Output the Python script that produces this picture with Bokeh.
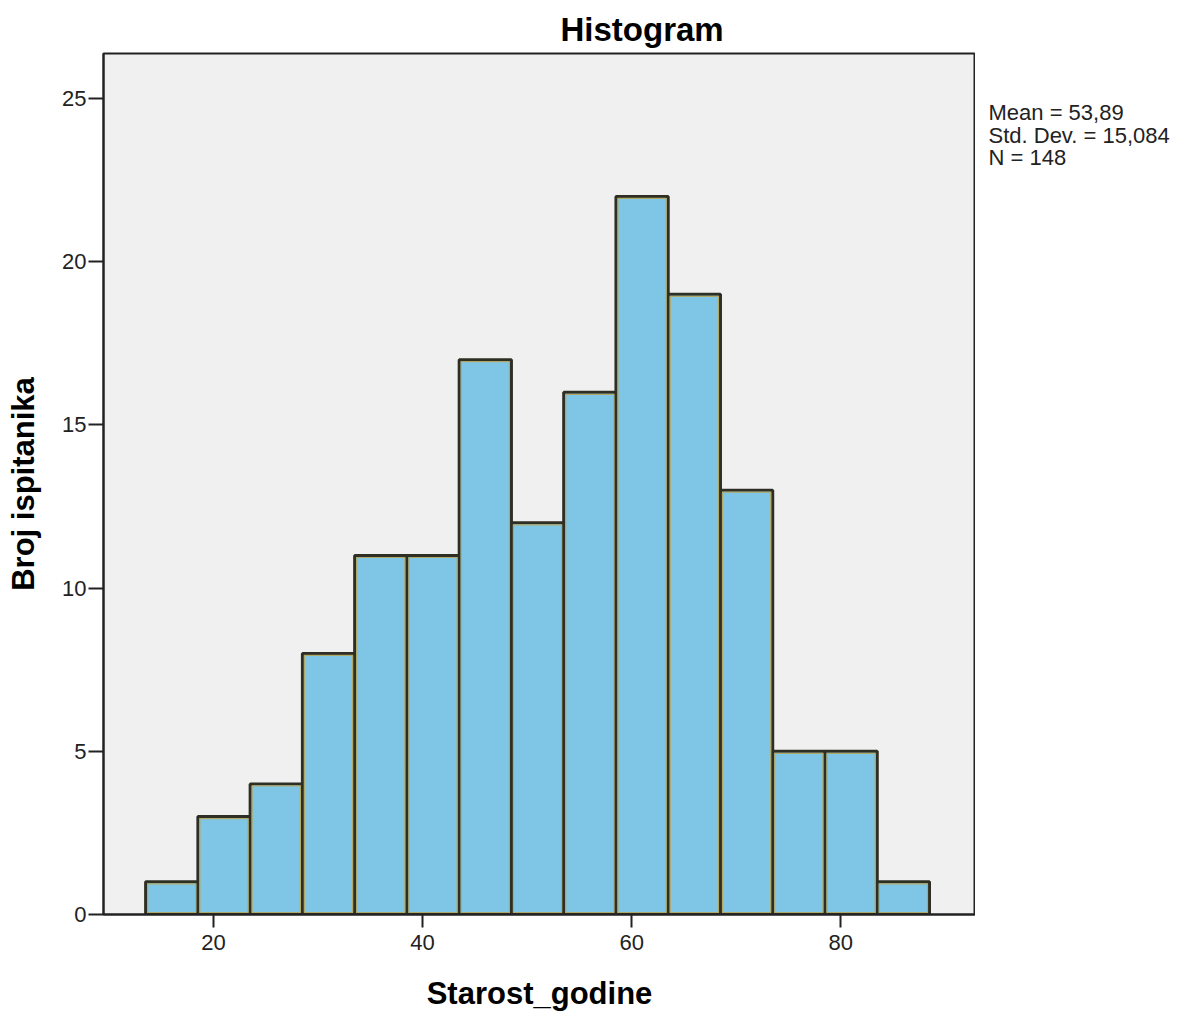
from bokeh.plotting import figure
from bokeh.layouts import row
from bokeh.models import Label, FixedTicker, Range1d
from bokeh.embed import file_html
from bokeh.resources import INLINE

# Histogram bins (age, 5-year wide) and counts
bin_edges = [13.5, 18.5, 23.5, 28.5, 33.5, 38.5, 43.5, 48.5, 53.5, 58.5, 63.5, 68.5, 73.5, 78.5, 83.5, 88.5]
counts = [1, 3, 4, 8, 11, 11, 17, 12, 16, 22, 19, 13, 5, 5, 1]
x_ticks = [20, 40, 60, 80]
y_ticks = [0, 5, 10, 15, 20, 25]
stats_lines = ["Mean = 53,89", "Std. Dev. = 15,084", "N = 148"]

FONT = "Liberation Sans"
W, H = 1192, 1014
BL, BR, BT, BB = 103, 217, 53, 100
X0, X1, Y0, Y1 = 9.47, 92.9, 0, 26.38

p = figure(width=W - BR, height=H, output_backend="svg", toolbar_location=None,
           x_range=Range1d(X0, X1), y_range=Range1d(Y0, Y1),
           min_border_left=BL, min_border_right=0, min_border_top=BT, min_border_bottom=BB)

p.title.text = "Histogram"
p.title.align = "left"
p.title.offset = 457
p.title.text_font = FONT
p.title.text_font_size = "33px"
p.title.text_font_style = "bold"
p.title.text_color = "black"
p.title.standoff = 12

p.background_fill_color = "#f0f0f0"
p.border_fill_color = "white"
p.outline_line_color = "#222222"
p.outline_line_width = 2
p.grid.visible = False

lefts = bin_edges[:-1]
rights = bin_edges[1:]
bottoms = [0] * len(counts)

# outer dark outline
p.quad(left=lefts, right=rights, top=counts, bottom=bottoms,
       fill_color="#7fc6e6", line_color="#2e2e24", line_width=3)

# inner olive rim, inset by ~2 px
fw = W - BL - BR
fh = H - BT - BB
dx = 2.0 * (X1 - X0) / fw
dy = 2.0 * (Y1 - Y0) / fh
p.quad(left=[l + dx for l in lefts], right=[r - dx for r in rights],
       top=[c - dy for c in counts], bottom=[dy] * len(counts),
       fill_color=None, line_color="#b0a868", line_width=1.2)

for ax in (p.xaxis[0], p.yaxis[0]):
    ax.axis_line_color = "#222222"
    ax.axis_line_width = 2
    ax.major_tick_line_color = "#222222"
    ax.major_tick_line_width = 2
    ax.major_tick_in = 0
    ax.minor_tick_line_color = None
    ax.major_label_text_font = FONT
    ax.major_label_text_font_size = "22px"
    ax.major_label_text_color = "#222222"
    ax.axis_label_text_font = FONT
    ax.axis_label_text_font_size = "31px"
    ax.axis_label_text_font_style = "bold"
    ax.axis_label_text_color = "black"

p.xaxis.ticker = FixedTicker(ticks=x_ticks)
p.yaxis.ticker = FixedTicker(ticks=y_ticks)
p.xaxis.major_tick_out = 13
p.yaxis.major_tick_out = 15
p.xaxis.major_label_standoff = 7
p.yaxis.major_label_standoff = 2
p.xaxis.axis_label = "Starost_godine"
p.yaxis.axis_label = "Broj ispitanika"
p.xaxis.axis_label_standoff = 23
p.yaxis.axis_label_standoff = 18

# side panel holding the summary statistics; its frame lines up with the main frame,
# so the y range is expressed as pixels measured up from the bottom of the page
side = figure(width=BR, height=H, output_backend="svg", toolbar_location=None,
              x_range=Range1d(0, BR), y_range=Range1d(BB, H - BT),
              min_border_left=0, min_border_right=0, min_border_top=BT, min_border_bottom=BB)
side.axis.visible = False
side.grid.visible = False
side.outline_line_color = None
side.background_fill_color = "white"
side.border_fill_color = "white"
for i, line in enumerate(stats_lines):
    y_pix = 112 + i * 22.5
    side.add_layout(Label(x=988 - (W - BR), y=H - y_pix,
                          text=line, text_font=FONT, text_font_size="22px",
                          text_color="#222222", text_baseline="middle"))

layout = row(p, side, spacing=0)
open("out.html", "w").write(file_html(layout, INLINE))
